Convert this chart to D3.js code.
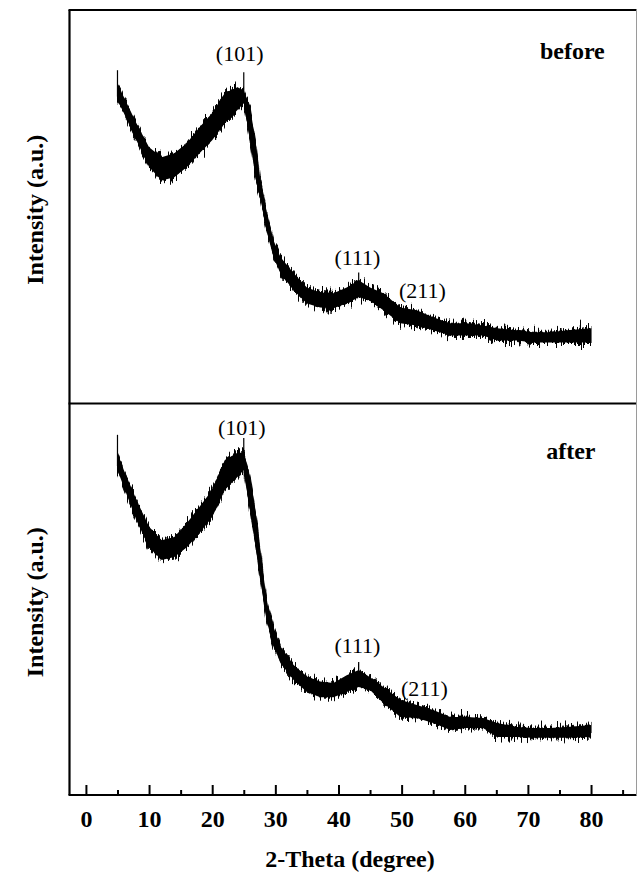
<!DOCTYPE html>
<html>
<head>
<meta charset="utf-8">
<script src="https://cdn.jsdelivr.net/npm/d3@7/dist/d3.min.js"></script>
<style>
	body { margin: 0; background: #fff; }
	text { font-family: "Liberation Serif", "Times New Roman", serif; fill: #000; }
</style>
</head>
<body>
<div id="chart"></div>
<script>
/*Data (intensity in arbitrary units, 0-100 per panel)*/
const twoTheta = [5, 6, 8, 10, 12, 14, 16, 18, 20, 22, 24, 25, 26, 27, 27.6, 28.7, 29.7, 30.8, 32.9, 35,
	37.1, 39.2, 41.3, 43.2, 45, 47.1, 49.8, 52.4, 55, 57.7, 60.3, 62.9, 65.1, 68.3, 70.8, 73.5, 76.2, 80];

// upper / lower edge of the noisy trace
const beforeHigh = [81.4, 77.9, 71.2, 65.1, 62.6, 63.6, 66.2, 70.2, 73.8, 78.9, 80.4, 79.6, 75.3, 65.1, 56.7, 48.3, 41.5, 37.2, 33.1, 29.5,
	28.2, 28.0, 29.5, 31.3, 29.5, 28.0, 24.4, 23.7, 21.9, 20.4, 20.4, 19.8, 19.1, 18.6, 18.1, 18.1, 18.6, 19.1];
const beforeLow = [77.1, 73.8, 66.9, 60.1, 56.7, 57.5, 60.1, 63.6, 66.9, 71.2, 74.6, 76.3, 66.9, 56.0, 52.4, 43.3, 37.2, 33.1, 28.8, 25.4,
	24.4, 24.2, 25.4, 27.0, 26.2, 23.7, 20.4, 19.8, 18.6, 17.3, 17.3, 17.3, 16.0, 16.0, 15.5, 15.5, 15.5, 15.5];

const afterHigh = [87.4, 83.0, 75.4, 68.5, 65.1, 65.9, 69.5, 73.6, 77.9, 85.6, 87.4, 87.4, 81.2, 71.0, 62.5, 49.0, 43.0, 38.0, 33.2, 30.3,
	29.0, 28.6, 30.6, 31.9, 30.1, 27.6, 24.3, 23.0, 21.7, 19.9, 19.9, 19.7, 18.4, 17.4, 17.1, 17.1, 17.4, 17.9];
const afterLow = [83.0, 78.7, 70.2, 63.3, 60.0, 60.8, 63.3, 66.9, 71.0, 77.9, 81.2, 83.0, 72.8, 62.6, 55.5, 44.0, 38.3, 33.7, 29.4, 26.3,
	25.0, 25.0, 26.3, 27.6, 26.8, 23.5, 19.9, 19.7, 18.4, 16.6, 17.1, 17.1, 14.8, 14.8, 14.6, 14.6, 14.6, 14.8];

// tallest single spikes: [2theta, base, top]
const beforeSpikes = [[5, 78, 84.7], [25, 78, 84.2], [43.2, 29, 33.3]];
const afterSpikes = [[5, 84, 92.0], [25, 84, 91.2], [43.2, 29, 34.0]];

// peak annotations: [2theta, intensity]
const peakNames = ["(101)", "(111)", "(211)"];
const beforePeakPos = [[24.35, 87.0], [43.0, 35.1], [53.3, 26.7]];
const afterPeakPos = [[24.7, 92.0], [43.0, 36.3], [53.6, 25.3]];

const sampleNames = ["before", "after"];
const xMajorTicks = [0, 10, 20, 30, 40, 50, 60, 70, 80];
const xMinorTicks = [5, 15, 25, 35, 45, 55, 65, 75, 85];
/////////////////////////////////////////////////////////////////////////////

//STYLING
const frame = { left: 69.5, right: 636.5, top: 10, mid: 403.5, bottom: 795 };

const svg = d3.select('#chart').append('svg')
	.attr('width', 638)
	.attr('height', 874);

/*
Grainy look of the counting noise: a texture filter that pushes each pixel
column of the band up or down (x shift kept at zero by a constant G channel).
*/
const filter = svg.append('defs').append('filter')
	.attr('id', 'grain')
	.attr('x', '-5%').attr('y', '-30%')
	.attr('width', '110%').attr('height', '160%');
filter.append('feTurbulence')
	.attr('type', 'fractalNoise')
	.attr('baseFrequency', '0.7 0.03')
	.attr('numOctaves', 2)
	.attr('seed', 4)
	.attr('result', 'tex');
filter.append('feColorMatrix')
	.attr('in', 'tex')
	.attr('type', 'matrix')
	.attr('values', '1 0 0 0 0  0 0 0 0 0.5  0 0 0 0 0  0 0 0 0 1')
	.attr('result', 'shift');
filter.append('feDisplacementMap')
	.attr('in', 'SourceGraphic')
	.attr('in2', 'shift')
	.attr('scale', 22)
	.attr('xChannelSelector', 'G')
	.attr('yChannelSelector', 'R');

const x = d3.scaleLinear()
	.domain([-2.6, 87.2])
	.range([frame.left, frame.right]);

const panels = [
	{ name: sampleNames[0], hi: beforeHigh, lo: beforeLow, spikes: beforeSpikes, peaks: beforePeakPos,
		y: d3.scaleLinear().domain([0, 100]).range([frame.mid, frame.top]), label: [71.9, 87.5] },
	{ name: sampleNames[1], hi: afterHigh, lo: afterLow, spikes: afterSpikes, peaks: afterPeakPos,
		y: d3.scaleLinear().domain([0, 100]).range([frame.bottom, frame.mid]), label: [72.9, 85.8] }
];

panels.forEach((p) => {
	const g = svg.append('g');

	// noisy trace drawn as a filled band between the two edges
	const band = d3.area()
		.x((d, i) => x(twoTheta[i]))
		.y0((d, i) => p.y(p.lo[i]))
		.y1((d, i) => p.y(p.hi[i]))
		.curve(d3.curveLinear);

	// solid core, then the grainy copy over it
	g.append('path')
		.datum(twoTheta)
		.attr('d', band)
		.attr('fill', '#000')
		.attr('stroke', 'none');

	g.append('path')
		.datum(twoTheta)
		.attr('d', band)
		.attr('fill', '#000')
		.attr('stroke', '#000')
		.attr('stroke-width', 1)
		.attr('stroke-linejoin', 'round')
		.attr('filter', 'url(#grain)');

	g.selectAll('line.spike')
		.data(p.spikes)
		.join('line')
		.attr('class', 'spike')
		.attr('x1', d => x(d[0]))
		.attr('x2', d => x(d[0]))
		.attr('y1', d => p.y(d[1]))
		.attr('y2', d => p.y(d[2]))
		.attr('stroke', '#000')
		.attr('stroke-width', 1.2);

	g.selectAll('text.peak')
		.data(p.peaks)
		.join('text')
		.attr('class', 'peak')
		.attr('x', d => x(d[0]))
		.attr('y', d => p.y(d[1]))
		.attr('text-anchor', 'middle')
		.style('font-size', '22px')
		.text((d, i) => peakNames[i]);

	g.append('text')
		.attr('x', x(p.label[0]))
		.attr('y', p.y(p.label[1]))
		.style('font-size', '24px')
		.style('font-weight', 'bold')
		.text(p.name);

	const yMid = (p.y.range()[0] + p.y.range()[1]) / 2 + 3;
	g.append('text')
		.attr('transform', `translate(43,${yMid}) rotate(-90)`)
		.attr('text-anchor', 'middle')
		.style('font-size', '24px')
		.style('font-weight', 'bold')
		.text('Intensity (a.u.)');
});

// x axis: ticks point inward
const major = svg.append('g')
	.attr('transform', `translate(0,${frame.bottom})`)
	.call(d3.axisBottom(x).tickValues(xMajorTicks).tickSize(-10).tickPadding(15).tickSizeOuter(0));
major.select('.domain').remove();
major.selectAll('line').attr('stroke', '#000').attr('stroke-width', 2);
major.selectAll('text')
	.style('font-size', '24px')
	.style('font-weight', 'bold')
	.style('font-family', '"Liberation Serif", "Times New Roman", serif');

const minor = svg.append('g')
	.attr('transform', `translate(0,${frame.bottom})`)
	.call(d3.axisBottom(x).tickValues(xMinorTicks).tickSize(-5).tickFormat('').tickSizeOuter(0));
minor.select('.domain').remove();
minor.selectAll('line').attr('stroke', '#000').attr('stroke-width', 2);

svg.append('text')
	.attr('x', 350)
	.attr('y', 867)
	.attr('text-anchor', 'middle')
	.style('font-size', '24px')
	.style('font-weight', 'bold')
	.text('2-Theta (degree)');

// frame
const edges = [
	[frame.left, frame.top, frame.left, frame.bottom],
	[frame.left - 1, frame.top, frame.right, frame.top],
	[frame.left - 1, frame.mid, frame.right, frame.mid],
	[frame.left - 1, frame.bottom, frame.right, frame.bottom]
];
svg.selectAll('line.edge')
	.data(edges)
	.join('line')
	.attr('class', 'edge')
	.attr('x1', d => d[0]).attr('y1', d => d[1])
	.attr('x2', d => d[2]).attr('y2', d => d[3])
	.attr('stroke', '#000')
	.attr('stroke-width', 2.2);

svg.append('line')
	.attr('x1', frame.right).attr('x2', frame.right)
	.attr('y1', frame.top).attr('y2', frame.bottom)
	.attr('stroke', '#9a9a9a')
	.attr('stroke-width', 1);
</script>
</body>
</html>
